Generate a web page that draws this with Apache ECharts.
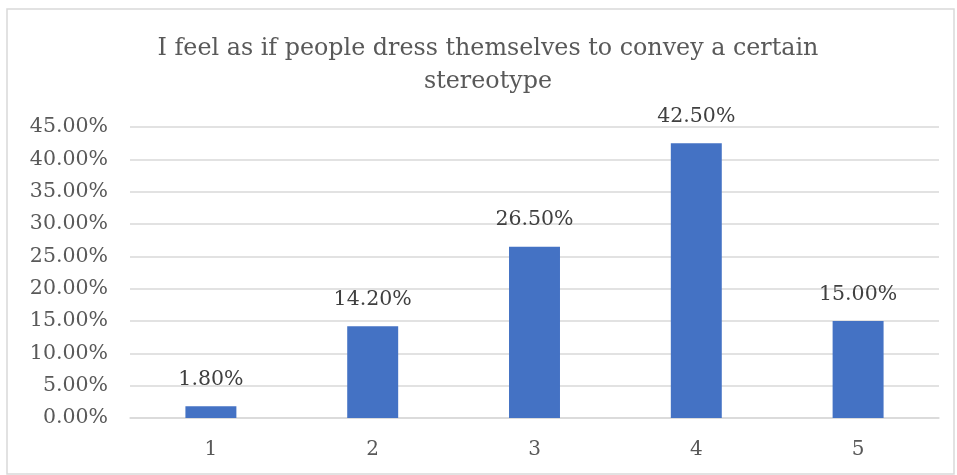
<!DOCTYPE html>
<html>
<head>
<meta charset="utf-8">
<script src="https://cdn.jsdelivr.net/npm/echarts@6/dist/echarts.min.js"></script>
<style>
  html, body { margin: 0; padding: 0; background: #fff; }
  #chart { width: 957px; height: 475px; }
</style>
</head>
<body>
<div id="chart"></div>
<script>
  // chart data
  let titleText = 'I feel as if people dress themselves to convey a certain\nstereotype'
  let categories = ['1', '2', '3', '4', '5']
  let values = [1.8, 14.2, 26.5, 42.5, 15.0]
  let yTicks = [0, 5, 10, 15, 20, 25, 30, 35, 40, 45]

  let font = '"DejaVu Serif", Georgia, serif'
  let textColor = '#595959'

  let chart = echarts.init(document.getElementById('chart'))
  let option = {
    animation: false,
    title: {
      text: titleText,
      left: 483,
      textAlign: 'center',
      top: 27,
      textStyle: {
        fontFamily: font,
        fontSize: 23.8,
        fontWeight: 'normal',
        color: textColor,
        lineHeight: 33
      }
    },
    graphic: [{
      type: 'rect',
      shape: { x: 7, y: 9, width: 947, height: 465 },
      style: { fill: 'none', stroke: '#d9d9d9', lineWidth: 1.5 },
      silent: true
    }],
    grid: {
      left: 130,
      right: 18,
      top: 127,
      bottom: 57,
      containLabel: false
    },
    xAxis: {
      type: 'category',
      data: categories,
      axisTick: { show: false },
      axisLine: { lineStyle: { color: '#d9d9d9', width: 1.5 } },
      axisLabel: {
        fontFamily: font,
        fontSize: 20,
        color: textColor,
        margin: 22
      }
    },
    yAxis: {
      type: 'value',
      min: yTicks[0],
      max: yTicks[yTicks.length - 1],
      interval: 5,
      axisLine: { show: false },
      axisTick: { show: false },
      splitLine: { lineStyle: { color: '#d9d9d9', width: 1.5 } },
      axisLabel: {
        fontFamily: font,
        fontSize: 20.5,
        color: textColor,
        margin: 22,
        formatter: v => v.toFixed(2) + '%'
      }
    },
    series: [{
      type: 'bar',
      data: values,
      barWidth: '31.5%',
      itemStyle: { color: '#4472c4' },
      label: {
        show: true,
        position: 'top',
        distance: 16,
        fontFamily: font,
        fontSize: 20.5,
        color: '#404040',
        formatter: p => p.value.toFixed(2) + '%'
      }
    }]
  }
  chart.setOption(option)
</script>
</body>
</html>
